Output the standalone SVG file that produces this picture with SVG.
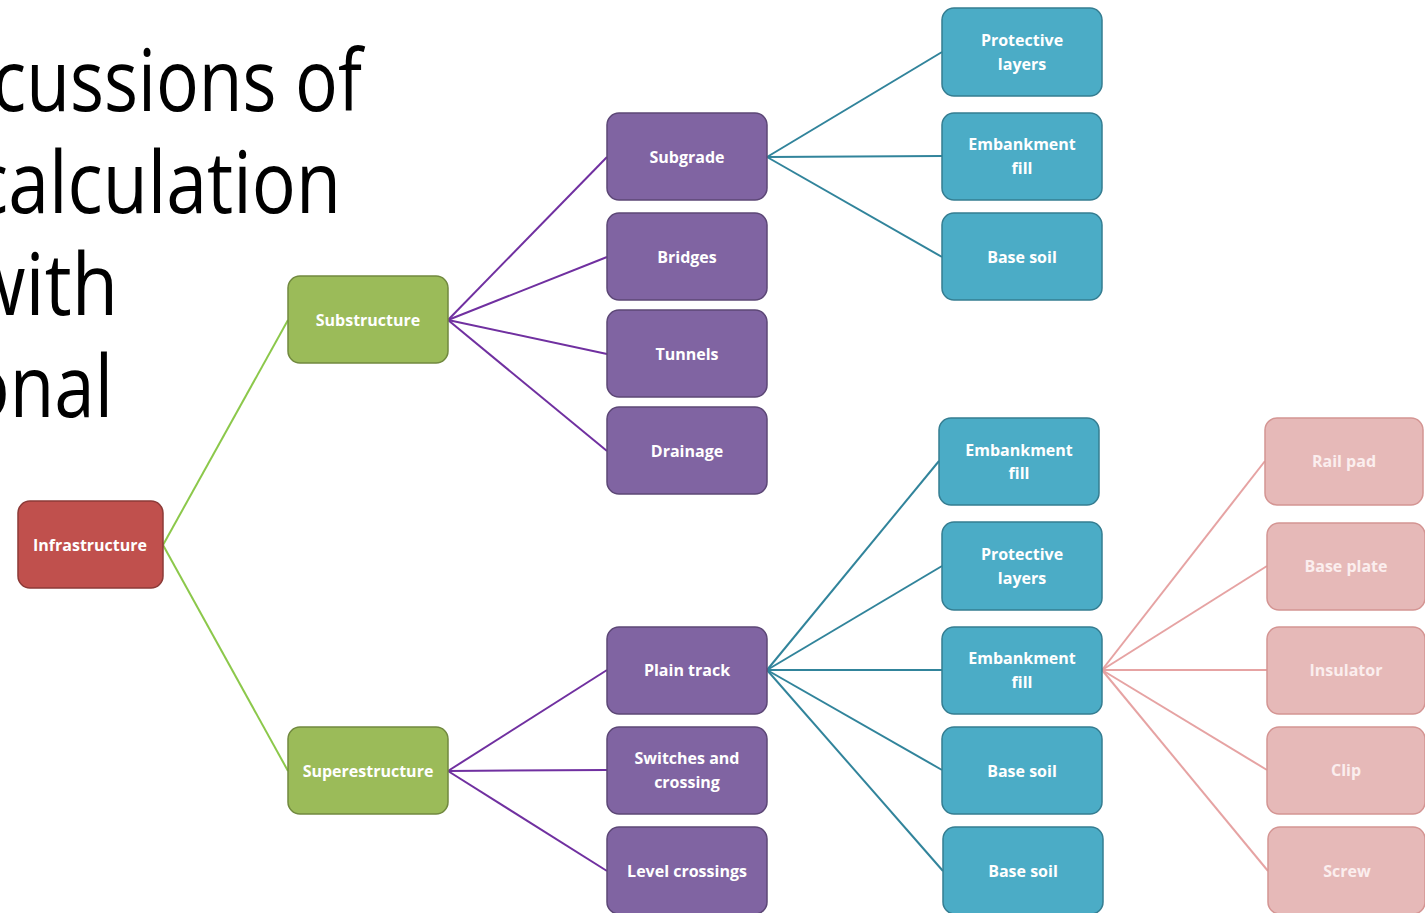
<svg xmlns="http://www.w3.org/2000/svg" width="1425" height="913" viewBox="0 0 1425 913">
<style>
.big{font-family:"Open Sans","Liberation Sans",sans-serif;font-size:86px;fill:#000}
.n rect{stroke-width:1.5}
.n text{font-family:"Open Sans","Liberation Sans",sans-serif;font-size:16px;font-weight:bold;fill:#fff;text-anchor:middle}
.red rect{fill:#c0504d;stroke:#8c3a37}
.green rect{fill:#9bbb59;stroke:#71893f}
.purple rect{fill:#8064a2;stroke:#5c4776}
.blue rect{fill:#4bacc6;stroke:#357d91}
.pink rect{fill:#e6b9b8;stroke:#d49593}
.pink text{fill:#fbeeee}
.c line{stroke-width:2;fill:none}
.cg line{stroke:#8cc84b}
.cp line{stroke:#7030a0}
.ct line{stroke:#31849b}
.ck line{stroke:#e6a3a3}
</style>
<rect width="1425" height="913" fill="#fff"/>
<g id="title">
<text class="big" x="-8" y="111" textLength="370" lengthAdjust="spacingAndGlyphs">cussions of</text>
<text class="big" x="-27" y="213" textLength="368" lengthAdjust="spacingAndGlyphs">calculation</text>
<text class="big" x="-33" y="315" textLength="151" lengthAdjust="spacingAndGlyphs">with</text>
<text class="big" x="-34" y="417" textLength="147" lengthAdjust="spacingAndGlyphs">onal</text>
</g>
<g id="connectors" class="c">
<g class="cg">
<line x1="163" y1="545" x2="288" y2="320"/>
<line x1="163" y1="545" x2="288" y2="771"/>
</g>
<g class="cp">
<line x1="448" y1="320" x2="607" y2="157"/>
<line x1="448" y1="320" x2="607" y2="257"/>
<line x1="448" y1="320" x2="607" y2="354"/>
<line x1="448" y1="320" x2="607" y2="451"/>
<line x1="448" y1="771" x2="607" y2="670"/>
<line x1="448" y1="771" x2="607" y2="770"/>
<line x1="448" y1="771" x2="607" y2="871"/>
</g>
<g class="ct">
<line x1="767" y1="157" x2="942" y2="52"/>
<line x1="767" y1="157" x2="942" y2="156"/>
<line x1="767" y1="157" x2="942" y2="257"/>
<line x1="767" y1="670" x2="939" y2="461"/>
<line x1="767" y1="670" x2="942" y2="566"/>
<line x1="767" y1="670" x2="942" y2="670"/>
<line x1="767" y1="670" x2="942" y2="770"/>
<line x1="767" y1="670" x2="943" y2="871"/>
</g>
<g class="ck">
<line x1="1102" y1="670" x2="1265" y2="461"/>
<line x1="1102" y1="670" x2="1267" y2="566"/>
<line x1="1102" y1="670" x2="1267" y2="670"/>
<line x1="1102" y1="670" x2="1267" y2="770"/>
<line x1="1102" y1="670" x2="1268" y2="871"/>
</g>
</g>
<g id="infrastructure" class="n red"><rect x="18" y="501" width="145" height="87" rx="12"/><text x="90" y="551">Infrastructure</text></g>
<g id="substructure" class="n green"><rect x="288" y="276" width="160" height="87" rx="12"/><text x="368" y="326">Substructure</text></g>
<g id="superestructure" class="n green"><rect x="288" y="727" width="160" height="87" rx="12"/><text x="368" y="777">Superestructure</text></g>
<g id="subgrade" class="n purple"><rect x="607" y="113" width="160" height="87" rx="12"/><text x="687" y="163">Subgrade</text></g>
<g id="bridges" class="n purple"><rect x="607" y="213" width="160" height="87" rx="12"/><text x="687" y="263">Bridges</text></g>
<g id="tunnels" class="n purple"><rect x="607" y="310" width="160" height="87" rx="12"/><text x="687" y="360">Tunnels</text></g>
<g id="drainage" class="n purple"><rect x="607" y="407" width="160" height="87" rx="12"/><text x="687" y="457">Drainage</text></g>
<g id="plain-track" class="n purple"><rect x="607" y="627" width="160" height="87" rx="12"/><text x="687" y="676">Plain track</text></g>
<g id="switches" class="n purple"><rect x="607" y="727" width="160" height="87" rx="12"/><text x="687" y="764">Switches and</text><text x="687" y="788">crossing</text></g>
<g id="level-crossings" class="n purple"><rect x="607" y="827" width="160" height="87" rx="12"/><text x="687" y="877">Level crossings</text></g>
<g id="protective-1" class="n blue"><rect x="942" y="8" width="160" height="88" rx="12"/><text x="1022" y="46">Protective</text><text x="1022" y="70">layers</text></g>
<g id="embankment-1" class="n blue"><rect x="942" y="113" width="160" height="87" rx="12"/><text x="1022" y="150">Embankment</text><text x="1022" y="174">fill</text></g>
<g id="basesoil-1" class="n blue"><rect x="942" y="213" width="160" height="87" rx="12"/><text x="1022" y="263">Base soil</text></g>
<g id="embankment-2" class="n blue"><rect x="939" y="418" width="160" height="87" rx="12"/><text x="1019" y="456">Embankment</text><text x="1019" y="479">fill</text></g>
<g id="protective-2" class="n blue"><rect x="942" y="522" width="160" height="88" rx="12"/><text x="1022" y="560">Protective</text><text x="1022" y="584">layers</text></g>
<g id="embankment-3" class="n blue"><rect x="942" y="627" width="160" height="87" rx="12"/><text x="1022" y="664">Embankment</text><text x="1022" y="688">fill</text></g>
<g id="basesoil-2" class="n blue"><rect x="942" y="727" width="160" height="87" rx="12"/><text x="1022" y="777">Base soil</text></g>
<g id="basesoil-3" class="n blue"><rect x="943" y="827" width="160" height="87" rx="12"/><text x="1023" y="877">Base soil</text></g>
<g id="rail-pad" class="n pink"><rect x="1265" y="418" width="158" height="87" rx="12"/><text x="1344" y="467">Rail pad</text></g>
<g id="base-plate" class="n pink"><rect x="1267" y="523" width="158" height="87" rx="12"/><text x="1346" y="572">Base plate</text></g>
<g id="insulator" class="n pink"><rect x="1267" y="627" width="158" height="87" rx="12"/><text x="1346" y="676">Insulator</text></g>
<g id="clip" class="n pink"><rect x="1267" y="727" width="158" height="87" rx="12"/><text x="1346" y="776">Clip</text></g>
<g id="screw" class="n pink"><rect x="1268" y="827" width="157" height="87" rx="12"/><text x="1347" y="877">Screw</text></g>
</svg>
